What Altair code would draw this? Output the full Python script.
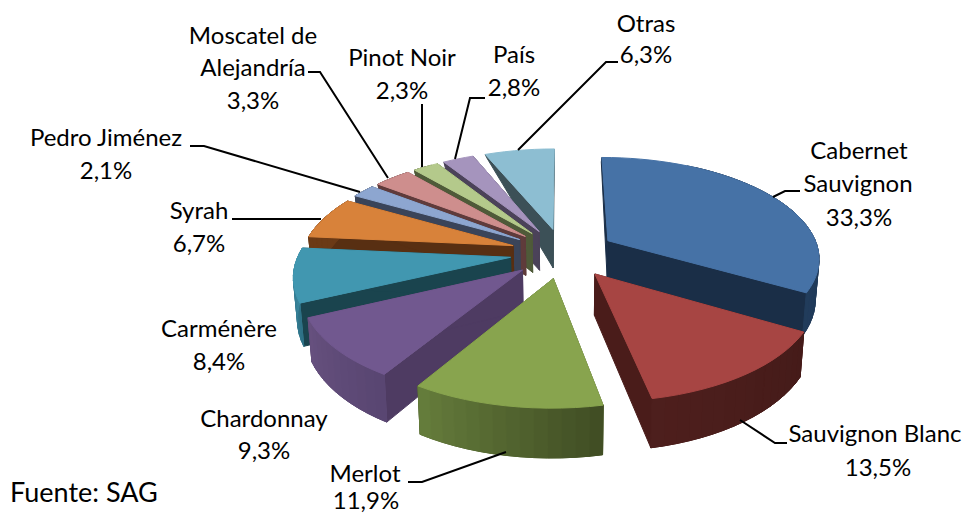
import math
import altair as alt

# --- values ---
names = ["Cabernet Sauvignon", "Sauvignon Blanc", "Merlot", "Chardonnay", "Carménère", "Syrah",
         "Pedro Jiménez", "Moscatel de Alejandría", "Pinot Noir", "País", "Otras"]
shares = [33.3, 13.5, 11.9, 9.3, 8.4, 6.7, 2.1, 3.3, 2.3, 2.8, 6.3]

top_colors = ["#4672A6", "#A74543", "#88A44E", "#71588F", "#4197B0", "#D8823A",
              "#8DA6D0", "#CE8E8D", "#B4C98B", "#A594BD", "#8DBED2"]
face_colors = ["#1A2E47", "#4A1C1A", "#4A5A2A", "#4E3B62", "#1A444E", "#582F12",
               "#3A4459", "#5F3B3B", "#4F5A39", "#4B4259", "#3C5057"]
wall_start = ["#1A2E47", "#451B19", "#414E24", "#594672", "#2E7186", "#6B3A16",
              "#3A4459", "#5F3B3B", "#4F5A39", "#4B4259", "#3C5057"]
wall_end = ["#213C5C", "#4E1F1D", "#677F3D", "#67517F", "#3E90A8", "#6B3A16",
            "#3A4459", "#5F3B3B", "#4F5A39", "#4B4259", "#3C5057"]
paint_order = [10, 9, 8, 7, 6, 5, 0, 4, 3, 1, 2]

label_lines = [
    ("Otras", 646, 23), ("6,3%", 646, 54),
    ("Cabernet", 859, 150), ("Sauvignon", 858, 183), ("33,3%", 859, 217),
    ("Sauvignon Blanc", 875, 433), ("13,5%", 878, 467),
    ("Merlot", 365, 473), ("11,9%", 366, 500),
    ("Chardonnay", 264, 418), ("9,3%", 264, 450),
    ("Carménère", 219, 328), ("8,4%", 219, 361),
    ("Syrah", 199, 210), ("6,7%", 199, 243),
    ("Pedro Jiménez", 106, 137), ("2,1%", 106, 170),
    ("Moscatel de", 253, 35), ("Alejandría", 253, 67), ("3,3%", 253, 100),
    ("Pinot Noir", 402, 57), ("2,3%", 402, 90),
    ("País", 514, 54), ("2,8%", 514, 87),
]
leaders = {
    "Otras": [(518, 150), (606, 62), (618, 62)],
    "País": [(455, 159), (470, 98), (485, 98)],
    "Pinot": [(422, 167), (422, 104)],
    "Moscatel": [(388, 178), (320, 72), (308, 72)],
    "Pedro": [(360, 192), (204, 146), (190, 146)],
    "Syrah": [(321, 219), (232, 219)],
    "Cabernet": [(773, 197), (785, 191), (800, 191)],
    "SBlanc": [(740, 420), (775, 443), (787, 443)],
    "Merlot": [(506, 452), (422, 482), (408, 482)],
}

# --- pie projection parameters ---
CX, CY, A, B, P, EXPLODE = 563.0, 253.0, 211.5, 100.0, 0.158, 0.25


def top_pt(x, y):
    w = 1 + P * y
    return (CX + A * x / w, CY - B * y / w)


def bot_pt(x, y):
    w = 1 + P * y
    d = 40.0 / w - 32.0 * min(max((y - 0.25) / 0.95, 0.0), 1.0)
    px, py = top_pt(x, y)
    return (CX + (px - CX) * 0.985, py + d)


def mix(c1, c2, t):
    a = [int(c1[i:i + 2], 16) for i in (1, 3, 5)]
    b = [int(c2[i:i + 2], 16) for i in (1, 3, 5)]
    return "#%02X%02X%02X" % tuple(round(u + (v - u) * t) for u, v in zip(a, b))


def feature(pts, fill, key):
    ring = [[round(p[0], 2), round(p[1], 2)] for p in pts]
    ring.append(ring[0])
    return {"type": "Feature", "properties": {"fill": fill, "key": key},
            "geometry": {"type": "Polygon", "coordinates": [ring]}}


total = sum(shares)
starts = []
acc = 0.0
for s in shares:
    starts.append(acc / total * 2 * math.pi)
    acc += s

features = []
for i in paint_order:
    a0 = starts[i]
    a1 = a0 + shares[i] / total * 2 * math.pi
    mid = (a0 + a1) / 2
    ex, ey = EXPLODE * math.sin(mid), EXPLODE * math.cos(mid)
    n = max(int(shares[i] * 3.6 / 3.0), 4)
    rim = [(ex + math.sin(a0 + (a1 - a0) * k / n), ey + math.cos(a0 + (a1 - a0) * k / n))
           for k in range(n + 1)]
    apex = (ex, ey)
    # radial faces
    for end in (rim[0], rim[-1]):
        features.append(feature([top_pt(*apex), top_pt(*end), bot_pt(*end), bot_pt(*apex)],
                                face_colors[i], f"{i}f"))
    # solid underlay of the outer wall, then its shaded strips
    visible = [p for p in rim if p[1] <= 1.0]
    if len(visible) > 1:
        features.append(feature([top_pt(*p) for p in visible] + [bot_pt(*p) for p in reversed(visible)],
                                mix(wall_start[i], wall_end[i], 0.5), f"{i}u"))
    for k in range(n):
        p, q = rim[k], rim[k + 1]
        if p[1] > 1.0 and q[1] > 1.0:
            continue
        features.append(feature([top_pt(*p), top_pt(*q), bot_pt(*q), bot_pt(*p)],
                                mix(wall_start[i], wall_end[i], k / n), f"{i}w{k}"))
    # top surface
    features.append(feature([top_pt(*apex)] + [top_pt(*p) for p in rim], top_colors[i], f"{i}t"))

W, H = 954, 505
xs = alt.Scale(domain=[8, 8 + W])
ys = alt.Scale(domain=[8 + H, 8])

pie = (
    alt.Chart(alt.Data(values=features))
    .mark_geoshape(strokeWidth=1)
    .encode(
        color=alt.Color("properties.fill:N", scale=None),
        stroke=alt.Stroke("properties.fill:N", scale=None),
    )
    .project(type="identity", scale=1, translate=[-8, -8])
)

leader_rows = [
    {"id": k, "ord": j, "x": p[0], "y": p[1]} for k, v in leaders.items() for j, p in enumerate(v)
]
lines = (
    alt.Chart(alt.Data(values=leader_rows))
    .mark_line(color="black", strokeWidth=2)
    .encode(
        x=alt.X("x:Q", scale=xs, axis=None),
        y=alt.Y("y:Q", scale=ys, axis=None),
        detail="id:N",
        order="ord:Q",
    )
)

text_rows = [{"t": t, "x": x, "y": y} for t, x, y in label_lines]
labels = (
    alt.Chart(alt.Data(values=text_rows))
    .mark_text(font="Lato", fontSize=24, color="black", align="center", baseline="middle", dy=2)
    .encode(x=alt.X("x:Q", scale=xs, axis=None), y=alt.Y("y:Q", scale=ys, axis=None), text="t:N")
)
source = (
    alt.Chart(alt.Data(values=[{"t": "Fuente: SAG", "x": 10, "y": 492}]))
    .mark_text(font="Lato", fontSize=27, color="black", align="left", baseline="middle", dy=2)
    .encode(x=alt.X("x:Q", scale=xs, axis=None), y=alt.Y("y:Q", scale=ys, axis=None), text="t:N")
)

chart = (
    alt.layer(pie, lines, labels, source)
    .properties(width=W, height=H, padding=0, background="white",
                autosize=alt.AutoSizeParams(type="none"))
    .configure_view(stroke=None)
)

chart.save("out.html", embed_options={"renderer": "svg", "actions": False})
